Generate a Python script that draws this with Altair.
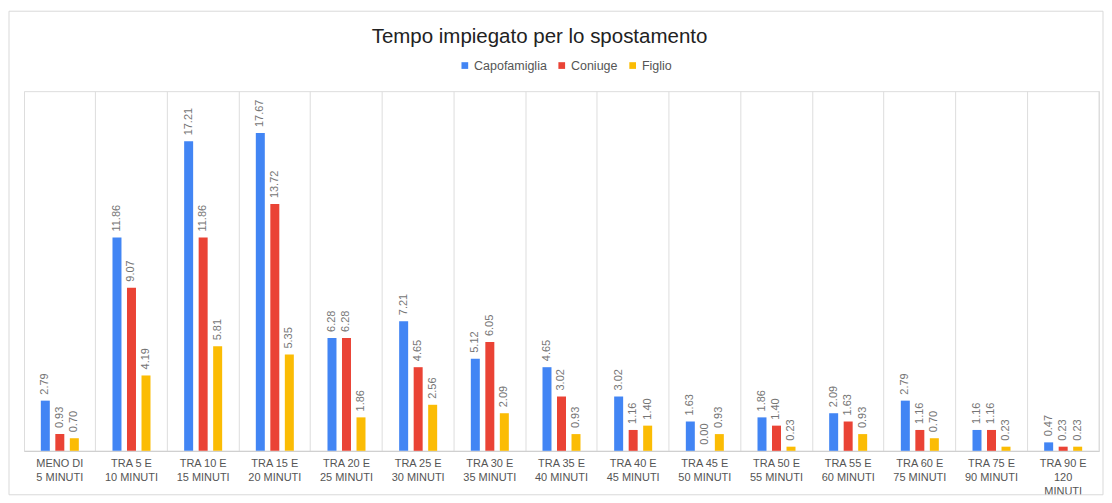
import json
import altair as alt
import pandas as pd

categories = [
    "MENO DI 5 MINUTI", "TRA 5 E 10 MINUTI", "TRA 10 E 15 MINUTI", "TRA 15 E 20 MINUTI",
    "TRA 20 E 25 MINUTI", "TRA 25 E 30 MINUTI", "TRA 30 E 35 MINUTI", "TRA 35 E 40 MINUTI",
    "TRA 40 E 45 MINUTI", "TRA 45 E 50 MINUTI", "TRA 50 E 55 MINUTI", "TRA 55 E 60 MINUTI",
    "TRA 60 E 75 MINUTI", "TRA 75 E 90 MINUTI", "TRA 90 E 120 MINUTI",
]
tick_labels = [
    ["MENO DI", "5 MINUTI"], ["TRA 5 E", "10 MINUTI"], ["TRA 10 E", "15 MINUTI"],
    ["TRA 15 E", "20 MINUTI"], ["TRA 20 E", "25 MINUTI"], ["TRA 25 E", "30 MINUTI"],
    ["TRA 30 E", "35 MINUTI"], ["TRA 35 E", "40 MINUTI"], ["TRA 40 E", "45 MINUTI"],
    ["TRA 45 E", "50 MINUTI"], ["TRA 50 E", "55 MINUTI"], ["TRA 55 E", "60 MINUTI"],
    ["TRA 60 E", "75 MINUTI"], ["TRA 75 E", "90 MINUTI"], ["TRA 90 E", "120", "MINUTI"],
]
series = ["Capofamiglia", "Coniuge", "Figlio"]
colors = ["#4285F4", "#EA4335", "#FBBC04"]
capofamiglia = [2.79, 11.86, 17.21, 17.67, 6.28, 7.21, 5.12, 4.65, 3.02, 1.63, 1.86, 2.09, 2.79, 1.16, 0.47]
coniuge = [0.93, 9.07, 11.86, 13.72, 6.28, 4.65, 6.05, 3.02, 1.16, 0.00, 1.40, 1.63, 1.16, 1.16, 0.23]
figlio = [0.70, 4.19, 5.81, 5.35, 1.86, 2.56, 2.09, 0.93, 1.40, 0.93, 0.23, 0.93, 0.70, 0.23, 0.23]

rows = []
for name, vals in zip(series, [capofamiglia, coniuge, figlio]):
    for c, v in zip(categories, vals):
        rows.append({"categoria": c, "serie": name, "valore": v, "etichetta": f"{v:.2f}"})
df = pd.DataFrame(rows)

label_map = json.dumps(dict(zip(categories, tick_labels)))

W, H = 1076, 360
FONT = "Liberation Sans"

x_scale = alt.Scale(domain=categories, paddingInner=0, paddingOuter=0)
x = alt.X("categoria:N", title=None, scale=x_scale,
          axis=alt.Axis(grid=True, bandPosition=0, gridColor="#dddddd", gridWidth=1,
                        ticks=False, domainColor="#cccccc", domainWidth=1,
                        labelAngle=0, labelFontSize=11, labelColor="#555555",
                        labelFont=FONT, labelPadding=7, labelLineHeight=14,
                        labelExpr=f"{label_map}[datum.value]"))
y = alt.Y("valore:Q", scale=alt.Scale(domain=[0, 20], nice=False), axis=None)
xo = alt.XOffset("serie:N", scale=alt.Scale(domain=series, paddingInner=0, paddingOuter=0.97))
color = alt.Color("serie:N",
                  scale=alt.Scale(domain=series, range=colors),
                  legend=alt.Legend(title=None, orient="none", legendX=435, legendY=-32,
                                    direction="horizontal", symbolType="square",
                                    symbolSize=45, symbolStrokeWidth=0,
                                    labelFontSize=12.5, labelColor="#555555", labelFont=FONT,
                                    labelOffset=3, columnPadding=8, padding=0))

base = alt.Chart(df)

bars = base.mark_bar(size=9).encode(x=x, y=y, xOffset=xo, color=color)

texts = base.mark_text(angle=270, align="left", baseline="middle", dx=6,
                       fontSize=11, color="#757575", font=FONT).encode(
    x=x, y=y, xOffset=xo, text="etichetta:N")

right_line = alt.Chart(pd.DataFrame({"categoria": [categories[-1]]})).mark_rule(
    color="#dddddd", strokeWidth=1).encode(
    x=alt.X("categoria:N", scale=x_scale, bandPosition=1),
    y=alt.datum(0), y2=alt.datum(20))

border = alt.Chart(pd.DataFrame({"c": [0]})).mark_rect(
    fill=None, stroke="#d9d9d9", strokeWidth=1).encode(
    x=alt.value(-15), x2=alt.value(W + 4), y=alt.value(-80), y2=alt.value(H + 44))

chart = alt.layer(border, bars, texts, right_line).properties(
    width=W, height=H, padding={"left": 0, "top": 2, "right": 0, "bottom": 0},
    title=alt.TitleParams("Tempo impiegato per lo spostamento", fontSize=20.5,
                          fontWeight="normal", color="#222222", font=FONT,
                          baseline="alphabetic", offset=-53, dx=-22, anchor="middle"),
).configure_view(stroke=None).configure(background="white")

chart.save("out.html", embed_options={"renderer": "svg", "actions": False})
